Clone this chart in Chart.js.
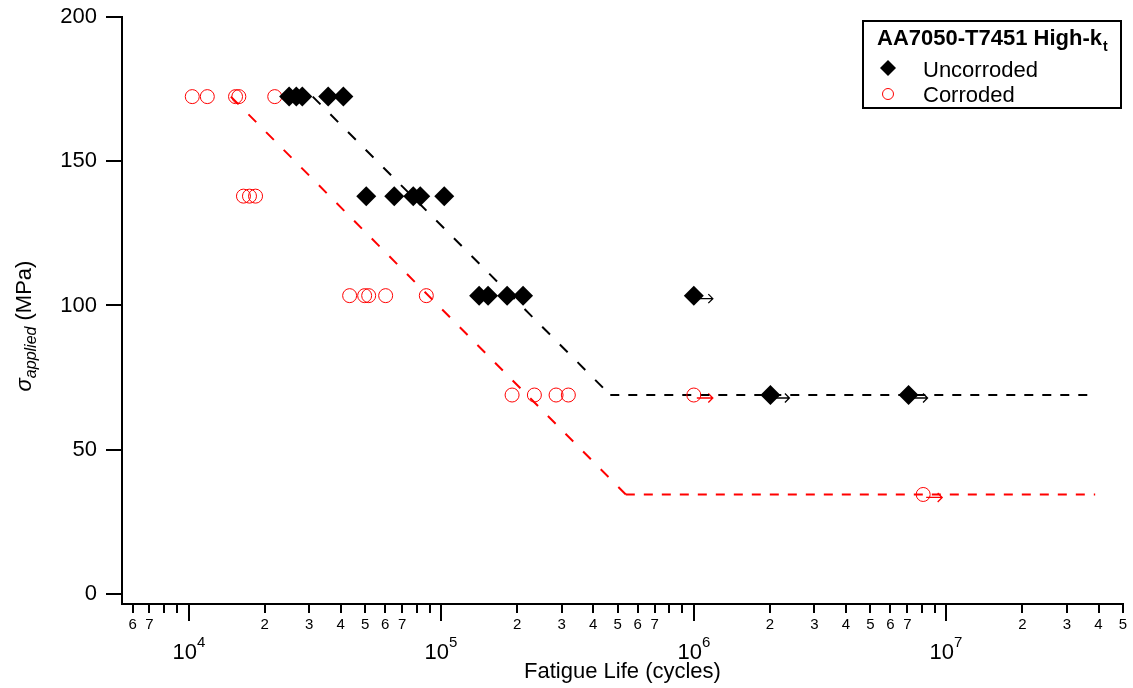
<!DOCTYPE html>
<html lang="en">
<head>
<meta charset="UTF-8">
<title>AA7050-T7451 High-kt fatigue life</title>
<script src="https://cdn.jsdelivr.net/npm/chart.js"></script>
<style>
    html, body { margin: 0; padding: 0; background: #fff; }
    #wrap { width: 1133px; height: 688px; }
</style>
</head>
<body>
<div id="wrap"><canvas id="snChart" width="1133" height="688"></canvas></div>
<script>
// fatigue life (cycles) / applied stress (MPa)
const uncorrodedN = [25000, 26700, 28200, 35700, 41000,
                     50500, 65200, 77500, 82600, 102800,
                     141300, 153300, 182400, 210900,
                     1000000, 2010000, 7080000];
const uncorrodedS = [172.4, 172.4, 172.4, 172.4, 172.4,
                     137.9, 137.9, 137.9, 137.9, 137.9,
                     103.4, 103.4, 103.4, 103.4,
                     103.4, 68.95, 68.95];
const uncorrodedRunout = [0, 0, 0, 0, 0, 0, 0, 0, 0, 0, 0, 0, 0, 0, 1, 1, 1];

const corrodedN = [10340, 11860, 15340, 15810, 21930,
                   16490, 17420, 18410,
                   43400, 49770, 51630, 60270, 87300,
                   190800, 233800, 284900, 318600,
                   1000000, 8090000];
const corrodedS = [172.4, 172.4, 172.4, 172.4, 172.4,
                   137.9, 137.9, 137.9,
                   103.4, 103.4, 103.4, 103.4, 103.4,
                   68.95, 68.95, 68.95, 68.95,
                   68.95, 34.47];
const corrodedRunout = [0, 0, 0, 0, 0, 0, 0, 0, 0, 0, 0, 0, 0, 0, 0, 0, 0, 1, 1];

// dashed trend lines
const uncorrodedFitN = [31000, 467000, 38500000];
const uncorrodedFitS = [172.4, 68.95, 68.95];
const corrodedFitN = [14700, 538000, 38800000];
const corrodedFitS = [172.4, 34.47, 34.47];

// axes
const xDecades = [1e3, 1e4, 1e5, 1e6, 1e7];
const xMantissas = [1, 2, 3, 4, 5, 6, 7, 8, 9];
const xLabelled = [2, 3, 4, 5, 6, 7];
const yTicks = [0, 50, 100, 150, 200];

const legendTitle = 'AA7050-T7451 High-k';
const legendTitleSub = 't';

const FONT = "'Liberation Sans', Arial, Helvetica, sans-serif";
const X_MIN = 5450, X_MAX = 5e7;

function toPoints(xs, ys) {
    return xs.map((x, i) => ({ x: x, y: ys[i] }));
}
function mantissa(v) {
    return Math.round(v / Math.pow(10, Math.floor(Math.log10(v) + 1e-9)));
}
function noEdgePadding(s) {
    s.paddingTop = 0;
    s.paddingBottom = 0;
    s.paddingLeft = 0;
    s.paddingRight = 0;
}

const trendDash = {
    borderDash: ctx => ctx.p0.parsed.y === ctx.p1.parsed.y ? [9, 9] : [11, 14]
};

const igorDecor = {
    id: 'igorDecor',
    beforeDatasetsDraw(chart) {
        // run-out arrows
        const ctx = chart.ctx;
        [[0, uncorrodedRunout, '#000'], [1, corrodedRunout, '#ff0000']].forEach(([di, flags, col]) => {
            const meta = chart.getDatasetMeta(di);
            ctx.save();
            ctx.strokeStyle = col;
            ctx.lineWidth = 1.3;
            meta.data.forEach((pt, i) => {
                if (!flags[i]) return;
                const y = pt.y + 3;
                ctx.beginPath();
                ctx.moveTo(pt.x + 3, y);
                ctx.lineTo(pt.x + 19, y);
                ctx.moveTo(pt.x + 14.5, y - 4.5);
                ctx.lineTo(pt.x + 19, y);
                ctx.lineTo(pt.x + 14.5, y + 4.5);
                ctx.stroke();
            });
            ctx.restore();
        });
    },
    afterDraw(chart) {
        const ctx = chart.ctx;
        const xs = chart.scales.x;
        const area = chart.chartArea;
        ctx.save();
        ctx.fillStyle = '#000';
        ctx.strokeStyle = '#000';

        // long ticks + labels at decades
        ctx.lineWidth = 2;
        xDecades.forEach(d => {
            if (d < X_MIN || d > X_MAX) return;
            const px = Math.round(xs.getPixelForValue(d));
            ctx.beginPath();
            ctx.moveTo(px, area.bottom);
            ctx.lineTo(px, area.bottom + 17);
            ctx.stroke();
            const exp = String(Math.round(Math.log10(d)));
            ctx.font = '22px ' + FONT;
            const w1 = ctx.measureText('10').width;
            ctx.font = '15px ' + FONT;
            const w2 = ctx.measureText(exp).width;
            const x0 = px - (w1 + w2) / 2;
            ctx.textAlign = 'left';
            ctx.textBaseline = 'alphabetic';
            ctx.font = '22px ' + FONT;
            ctx.fillText('10', x0, 659);
            ctx.font = '15px ' + FONT;
            ctx.fillText(exp, x0 + w1, 647);
        });

        // y axis title: sigma_applied (MPa)
        ctx.save();
        ctx.translate(31, 326);
        ctx.rotate(-Math.PI / 2);
        const parts = [
            ['σ', 'italic 22px ' + FONT, 0],
            ['applied', 'italic 16px ' + FONT, 5],
            [' (MPa)', '22px ' + FONT, 0]
        ];
        let total = 0;
        parts.forEach(p => { ctx.font = p[1]; total += ctx.measureText(p[0]).width; });
        let cx = -total / 2;
        ctx.textAlign = 'left';
        ctx.textBaseline = 'alphabetic';
        parts.forEach(p => {
            ctx.font = p[1];
            ctx.fillText(p[0], cx, p[2]);
            cx += ctx.measureText(p[0]).width;
        });
        ctx.restore();

        // legend box
        ctx.lineWidth = 2;
        ctx.strokeRect(863, 21, 258, 87);
        ctx.textAlign = 'left';
        ctx.textBaseline = 'alphabetic';
        ctx.font = 'bold 22px ' + FONT;
        ctx.fillText(legendTitle, 877, 45);
        const tw = ctx.measureText(legendTitle).width;
        ctx.font = 'bold 14px ' + FONT;
        ctx.fillText(legendTitleSub, 877 + tw + 1, 51);

        const rows = [[0, 68, 77], [1, 94, 102]];
        rows.forEach(([di, my, by]) => {
            const ds = chart.data.datasets[di];
            ctx.beginPath();
            if (ds.pointStyle === 'rectRot') {
                ctx.moveTo(888 - 8, my);
                ctx.lineTo(888, my - 8);
                ctx.lineTo(888 + 8, my);
                ctx.lineTo(888, my + 8);
                ctx.closePath();
                ctx.fillStyle = ds.backgroundColor;
                ctx.fill();
            } else {
                ctx.arc(888, my, 5.5, 0, Math.PI * 2);
                ctx.strokeStyle = ds.borderColor;
                ctx.lineWidth = ds.borderWidth;
                ctx.stroke();
            }
            ctx.fillStyle = '#000';
            ctx.font = '22px ' + FONT;
            ctx.fillText(ds.label, 923, by);
        });
        ctx.restore();
    }
};

new Chart(document.getElementById('snChart').getContext('2d'), {
    type: 'scatter',
    data: {
        datasets: [{
            label: 'Uncorroded',
            data: toPoints(uncorrodedN, uncorrodedS),
            pointStyle: 'rectRot',
            pointRadius: 10,
            backgroundColor: '#000',
            borderColor: '#000',
            borderWidth: 0
        }, {
            label: 'Corroded',
            data: toPoints(corrodedN, corrodedS),
            pointStyle: 'circle',
            pointRadius: 7,
            backgroundColor: 'rgba(0,0,0,0)',
            borderColor: '#ff0000',
            borderWidth: 1
        }, {
            label: 'Uncorroded trend',
            data: toPoints(uncorrodedFitN, uncorrodedFitS),
            showLine: true,
            pointRadius: 0,
            borderColor: '#000',
            borderWidth: 2,
            segment: trendDash
        }, {
            label: 'Corroded trend',
            data: toPoints(corrodedFitN, corrodedFitS),
            showLine: true,
            pointRadius: 0,
            borderColor: '#ff0000',
            borderWidth: 2,
            segment: trendDash
        }]
    },
    options: {
        responsive: false,
        animation: false,
        layout: { padding: { top: 17, right: 9, bottom: 0, left: 0 } },
        plugins: {
            legend: { display: false },
            tooltip: { enabled: false }
        },
        scales: {
            x: {
                type: 'logarithmic',
                min: X_MIN,
                max: X_MAX,
                afterBuildTicks: s => {
                    const t = [];
                    xDecades.forEach(d => xMantissas.forEach(m => {
                        const v = d * m;
                        if (v >= X_MIN && v <= X_MAX) t.push({ value: v });
                    }));
                    s.ticks = t;
                },
                afterFit: s => { s.height = 84; noEdgePadding(s); },
                grid: { drawOnChartArea: false, tickLength: 9, color: '#000', lineWidth: 2 },
                border: { display: true, color: '#000', width: 2 },
                ticks: {
                    autoSkip: false,
                    maxRotation: 0,
                    padding: 3,
                    color: '#000',
                    font: { family: FONT, size: 15 },
                    callback: v => {
                        const m = mantissa(v);
                        return xLabelled.includes(m) ? String(m) : '';
                    }
                },
                title: {
                    display: true,
                    text: 'Fatigue Life (cycles)',
                    color: '#000',
                    font: { family: FONT, size: 22 },
                    padding: { top: 0, bottom: 3 }
                }
            },
            y: {
                min: -3.5,
                max: 200,
                afterBuildTicks: s => { s.ticks = yTicks.map(v => ({ value: v })); },
                afterFit: s => { s.width = 122; noEdgePadding(s); },
                grid: { drawOnChartArea: false, tickLength: 16, color: '#000', lineWidth: 2 },
                border: { display: true, color: '#000', width: 2 },
                ticks: {
                    padding: 9,
                    color: '#000',
                    font: { family: FONT, size: 22 }
                }
            }
        }
    },
    plugins: [igorDecor]
});
</script>
</body>
</html>
